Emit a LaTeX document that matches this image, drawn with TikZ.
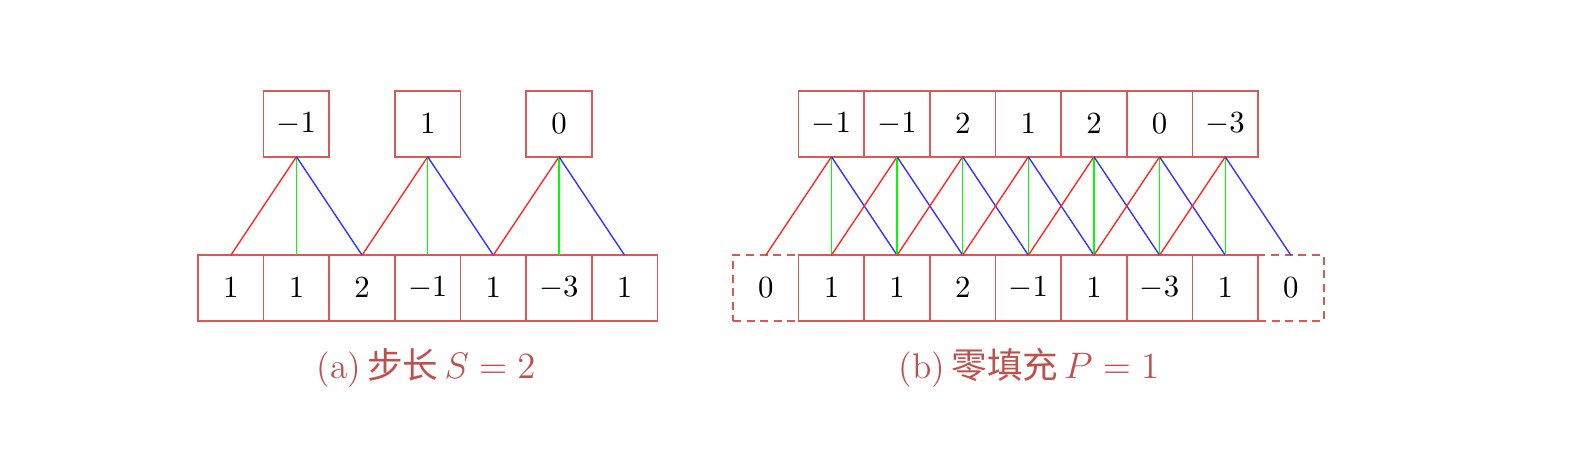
\documentclass[tikz,border=0pt]{standalone}
\usepackage{fontspec}
\newfontfamily\cjk{Noto Sans CJK SC}
\usepackage{tikz}
\usetikzlibrary{positioning, calc}
\usepackage{xcolor}
\definecolor{boxred}{RGB}{218,88,86}
\definecolor{captred}{RGB}{192,80,77}

\begin{document}
\begin{tikzpicture}[
    cell/.style={draw=boxred, line width=0.55pt, minimum size=0.75cm, inner sep=0pt, outer sep=0pt},
    padcell/.style={cell, dash pattern=on 2.6pt off 1.8pt},
    redline/.style={red!85, line width=0.45pt},
    greenline/.style={green, line width=0.45pt},
    blueline/.style={blue!80, line width=0.45pt},
    caption/.style={text=captred, font=\fontsize{11.6}{14}\selectfont}
]
    \useasboundingbox (0,0) rectangle (17.931,-5.189);

    % (a) stride - input row
    \node[cell] (a1) at (2.638,-3.291) {$1$};
    \node[cell, anchor=west] (a2) at (a1.east) {$1$};
    \node[cell, anchor=west] (a3) at (a2.east) {$2$};
    \node[cell, anchor=west] (a4) at (a3.east) {$-1$};
    \node[cell, anchor=west] (a5) at (a4.east) {$1$};
    \node[cell, anchor=west] (a6) at (a5.east) {$-3$};
    \node[cell, anchor=west] (a7) at (a6.east) {$1$};

    % (a) stride - output row
    \node[cell] (ao1) at (a2 |- 0,-1.417) {$-1$};
    \node[cell] (ao2) at (a4 |- 0,-1.417) {$1$};
    \node[cell] (ao3) at (a6 |- 0,-1.417) {$0$};

    % (a) connections
    \draw[redline] (ao1.south) -- (a1.north);
    \draw[greenline] (ao1.south) -- (a2.north);
    \draw[blueline] (ao1.south) -- (a3.north);
    \draw[redline] (ao2.south) -- (a3.north);
    \draw[greenline] (ao2.south) -- (a4.north);
    \draw[blueline] (ao2.south) -- (a5.north);
    \draw[redline] (ao3.south) -- (a5.north);
    \draw[greenline] (ao3.south) -- (a6.north);
    \draw[blueline] (ao3.south) -- (a7.north);

    \node[caption] (capa) at (4.87,-4.206) {(a)\,{\cjk 步长}\,$S = 2$};

    % (b) zero padding - input row
    \node[padcell] (b0) at (8.752,-3.291) {$0$};
    \node[cell, anchor=west] (b1) at (b0.east) {$1$};
    \node[cell, anchor=west] (b2) at (b1.east) {$1$};
    \node[cell, anchor=west] (b3) at (b2.east) {$2$};
    \node[cell, anchor=west] (b4) at (b3.east) {$-1$};
    \node[cell, anchor=west] (b5) at (b4.east) {$1$};
    \node[cell, anchor=west] (b6) at (b5.east) {$-3$};
    \node[cell, anchor=west] (b7) at (b6.east) {$1$};
    \node[padcell, anchor=west] (b8) at (b7.east) {$0$};

    % (b) zero padding - output row
    \node[cell] (bo1) at (b1 |- 0,-1.417) {$-1$};
    \node[cell, anchor=west] (bo2) at (bo1.east) {$-1$};
    \node[cell, anchor=west] (bo3) at (bo2.east) {$2$};
    \node[cell, anchor=west] (bo4) at (bo3.east) {$1$};
    \node[cell, anchor=west] (bo5) at (bo4.east) {$2$};
    \node[cell, anchor=west] (bo6) at (bo5.east) {$0$};
    \node[cell, anchor=west] (bo7) at (bo6.east) {$-3$};

    % (b) connections
    \foreach \k [evaluate=\k as \l using int(\k-1), evaluate=\k as \r using int(\k+1)] in {1,...,7} {
        \draw[redline] (bo\k.south) -- (b\l.north);
        \draw[greenline] (bo\k.south) -- (b\k.north);
        \draw[blueline] (bo\k.south) -- (b\r.north);
    }

    \node[caption] (capb) at (11.76,-4.206) {(b)\,{\cjk 零填充}\,$P = 1$};
\end{tikzpicture}
\end{document}
